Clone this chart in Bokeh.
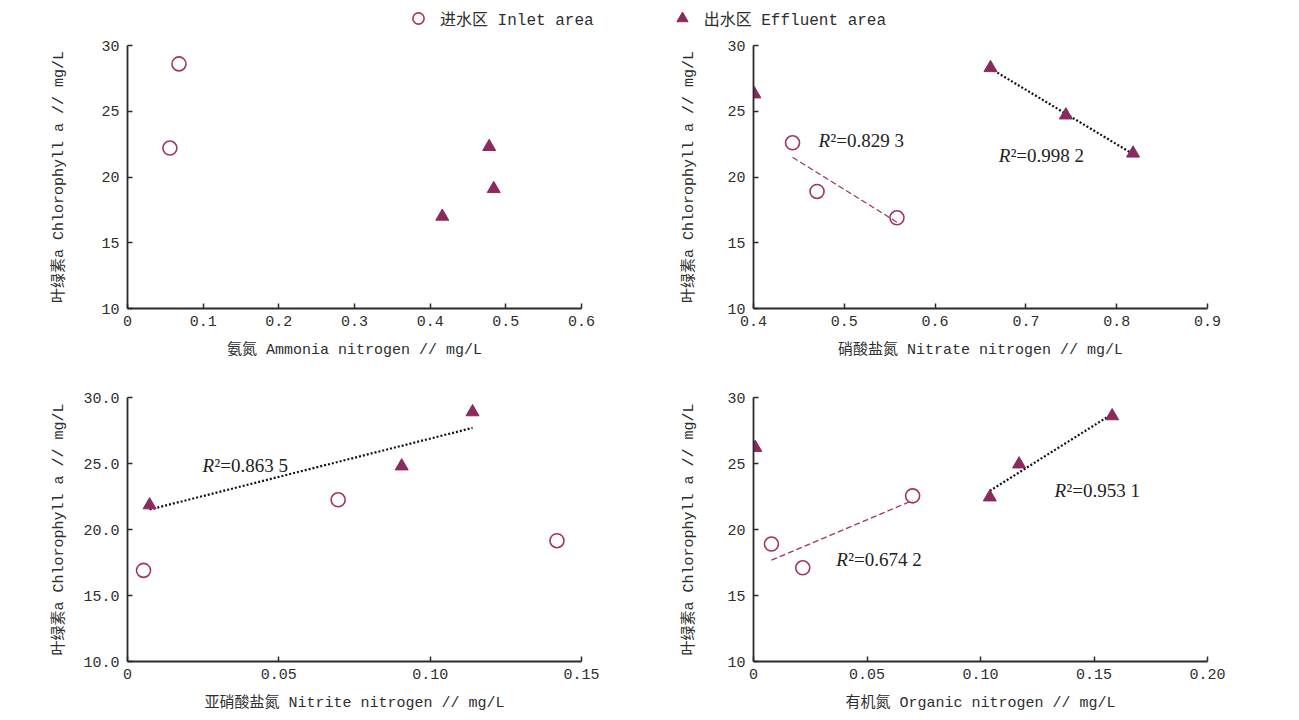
import numpy as np
from bokeh.plotting import figure
from bokeh.layouts import column, row
from bokeh.models import FixedTicker, Label, Legend, LegendItem, Range1d, ColumnDataSource
from bokeh.embed import file_html
from bokeh.resources import INLINE

# ---------------- data ----------------
y_ticks = [10, 15, 20, 25, 30]

# Panel 1: ammonia nitrogen
amm_in_x = [0.068, 0.056]
amm_in_y = [28.6, 22.2]
amm_eff_x = [0.478, 0.484, 0.416]
amm_eff_y = [22.3, 19.1, 17.0]

# Panel 2: nitrate nitrogen
nitra_in_x = [0.443, 0.470, 0.558]
nitra_in_y = [22.6, 18.9, 16.9]
nitra_eff_x = [0.401, 0.661, 0.744, 0.818]
nitra_eff_y = [26.3, 28.3, 24.7, 21.8]
nitra_eff_fit = [False, True, True, True]
nitra_r2 = ["0.829 3", "0.998 2"]

# Panel 3: nitrite nitrogen
nitri_in_x = [0.0053, 0.0696, 0.1419]
nitri_in_y = [16.9, 22.25, 19.15]
nitri_eff_x = [0.0073, 0.0906, 0.114]
nitri_eff_y = [21.85, 24.8, 28.9]
nitri_r2 = ["0.863 5"]

# Panel 4: organic nitrogen
org_in_x = [0.0079, 0.0217, 0.0701]
org_in_y = [18.9, 17.1, 22.55]
org_eff_x = [0.0008, 0.1041, 0.117, 0.158]
org_eff_y = [26.2, 22.45, 24.95, 28.6]
org_eff_fit = [False, True, True, True]
org_r2 = ["0.674 2", "0.953 1"]

y_label = "叶绿素a Chlorophyll a // mg/L"

FONT = "'Liberation Mono', 'Noto Sans CJK SC'"
SERIF = "'Liberation Serif', 'Noto Sans CJK SC'"
C_IN = "#A03468"
C_EFF = "#8B2A5C"
AX = "#2b2b2b"


def make_fig(w, h, bl, br, bt, bb, xr, xt, xlabels, ylabels, xlab, ystand):
    p = figure(width=w, height=h, x_range=Range1d(*xr), y_range=Range1d(10, 30),
               toolbar_location=None, output_backend="svg",
               min_border_left=bl, min_border_right=br, min_border_top=bt, min_border_bottom=bb)
    p.outline_line_color = None
    p.grid.visible = False
    p.background_fill_color = "white"
    p.border_fill_color = "white"
    p.xaxis.ticker = FixedTicker(ticks=xt)
    p.xaxis.major_label_overrides = {t: l for t, l in zip(xt, xlabels)}
    p.yaxis.ticker = FixedTicker(ticks=y_ticks)
    p.yaxis.major_label_overrides = {t: l for t, l in zip(y_ticks, ylabels)}
    for ax in (p.xaxis[0], p.yaxis[0]):
        ax.axis_line_color = AX
        ax.axis_line_width = 1.8
        ax.major_tick_line_color = AX
        ax.major_tick_line_width = 1.5
        ax.major_tick_in = 5
        ax.major_tick_out = 0
        ax.minor_tick_line_color = None
        ax.major_label_text_font = FONT
        ax.major_label_text_font_size = "15px"
        ax.major_label_text_color = "#2e2e2e"
        ax.axis_label_text_font = FONT
        ax.axis_label_text_font_size = "15px"
        ax.axis_label_text_font_style = "normal"
        ax.axis_label_text_color = "#2e2e2e"
    p.xaxis.axis_label = xlab
    p.yaxis.axis_label = y_label
    p.xaxis.major_label_standoff = 7
    p.xaxis.axis_label_standoff = 13
    p.yaxis.major_label_standoff = 8
    p.yaxis.axis_label_standoff = ystand
    return p


def pts(p, ix, iy, ex, ey):
    p.scatter(ix, iy, marker="circle", size=14, fill_color=None, line_color=C_IN, line_width=1.6)
    p.scatter(ex, ey, marker="triangle", size=13, fill_color=C_EFF, line_color=C_EFF)


def trend(p, xs, ys, mask, color, dash, width):
    xs = np.array(xs)
    ys = np.array(ys)
    if mask is not None:
        m = np.array(mask)
        xs, ys = xs[m], ys[m]
    k, b = np.polyfit(xs, ys, 1)
    x0, x1 = xs.min(), xs.max()
    p.line([x0, x1], [k * x0 + b, k * x1 + b], line_color=color, line_dash=dash, line_width=width)


def r2(p, x, y, txt):
    p.add_layout(Label(x=x, y=y, text="R", text_font=SERIF, text_font_style="italic",
                       text_font_size="19px", text_baseline="middle", text_color="#222222"))
    p.add_layout(Label(x=x, y=y, x_offset=12, text="²=" + txt, text_font=SERIF,
                       text_font_size="19px", text_baseline="middle", text_color="#222222"))


# Panel 1
p1 = make_fig(650, 334, 127, 69, 9, 62, (0, 0.6), [0, 0.1, 0.2, 0.3, 0.4, 0.5, 0.6],
              ["0", "0.1", "0.2", "0.3", "0.4", "0.5", "0.6"], ["10", "15", "20", "25", "30"],
              "氨氮 Ammonia nitrogen // mg/L", 30)
pts(p1, amm_in_x, amm_in_y, amm_eff_x, amm_eff_y)

# Panel 2
p2 = make_fig(649, 334, 103, 92, 9, 62, (0.4, 0.9), [0.4, 0.5, 0.6, 0.7, 0.8, 0.9],
              ["0.4", "0.5", "0.6", "0.7", "0.8", "0.9"], ["10", "15", "20", "25", "30"],
              "硝酸盐氮 Nitrate nitrogen // mg/L", 26)
trend(p2, nitra_in_x, nitra_in_y, None, C_IN, "6 3", 1.3)
trend(p2, nitra_eff_x, nitra_eff_y, nitra_eff_fit, "#111111", "2 2", 2.2)
pts(p2, nitra_in_x, nitra_in_y, nitra_eff_x, nitra_eff_y)
r2(p2, 0.4717, 22.78, nitra_r2[0])
r2(p2, 0.670, 21.64, nitra_r2[1])

# Panel 3
p3 = make_fig(650, 350, 127, 69, 27, 59, (0, 0.15), [0, 0.05, 0.10, 0.15],
              ["0", "0.05", "0.10", "0.15"], ["10.0", "15.0", "20.0", "25.0", "30.0"],
              "亚硝酸盐氮 Nitrite nitrogen // mg/L", 12)
trend(p3, nitri_eff_x, nitri_eff_y, None, "#111111", "2 2", 2.2)
pts(p3, nitri_in_x, nitri_in_y, nitri_eff_x, nitri_eff_y)
r2(p3, 0.0248, 24.83, nitri_r2[0])

# Panel 4
p4 = make_fig(649, 350, 103, 92, 27, 59, (0, 0.2), [0, 0.05, 0.10, 0.15, 0.20],
              ["0", "0.05", "0.10", "0.15", "0.20"], ["10", "15", "20", "25", "30"],
              "有机氮 Organic nitrogen // mg/L", 26)
trend(p4, org_in_x, org_in_y, None, C_IN, "6 3", 1.3)
trend(p4, org_eff_x, org_eff_y, org_eff_fit, "#111111", "2 2", 2.2)
pts(p4, org_in_x, org_in_y, org_eff_x, org_eff_y)
r2(p4, 0.0365, 17.7, org_r2[0])
r2(p4, 0.1326, 22.93, org_r2[1])

# Legend strip (glyph renderers sit outside the visible range; only the legend shows)
pl = figure(width=1299, height=36, toolbar_location=None, output_backend="svg",
            x_range=Range1d(0, 1), y_range=Range1d(0, 1), min_border=0)
pl.axis.visible = False
pl.grid.visible = False
pl.outline_line_color = None
src = ColumnDataSource(data=dict(x=[-5], y=[-5]))
r_in = pl.scatter("x", "y", source=src, marker="circle", size=14, fill_color=None,
                  line_color=C_IN, line_width=1.6)
r_eff = pl.scatter("x", "y", source=src, marker="triangle", size=13, fill_color=C_EFF,
                   line_color=C_EFF)
leg = Legend(items=[LegendItem(label="进水区 Inlet area", renderers=[r_in]),
                    LegendItem(label="出水区 Effluent area", renderers=[r_eff])],
             orientation="horizontal", location=(404, 4), label_text_font=FONT,
             label_text_font_size="16px", label_text_color="#2e2e2e", label_standoff=8,
             spacing=74, glyph_width=28, glyph_height=28, padding=0, margin=0,
             border_line_color=None, background_fill_alpha=0)
pl.add_layout(leg, "center")

layout = column(pl, row(p1, p2), row(p3, p4))
open("out.html", "w").write(file_html(layout, INLINE))
